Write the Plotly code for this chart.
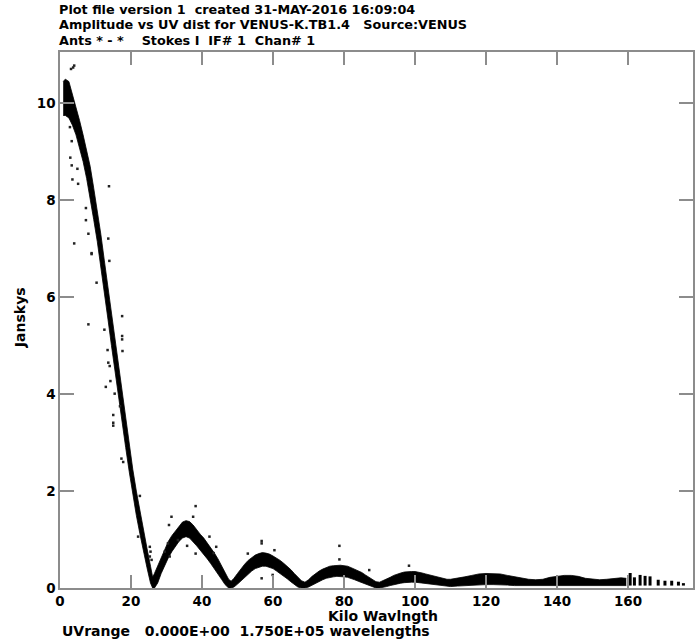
import plotly.graph_objects as go

# Amplitude vs UV distance, VENUS-K.TB1.4 (Stokes I, IF 1, channel 1)
# Dense visibility band: lower / upper amplitude envelope (Jy) vs UV distance (kilo-wavelengths)
uv_band = [0.9, 1.5, 2.5, 3.5, 4.5, 5.5, 6.5, 7.5, 8.5, 9.5, 10.5, 11.5, 12.5, 13.5, 14.5,
           15.5, 16.5, 17.5, 18.5, 19.5, 20.5, 21.5, 22.5, 23.5, 24.5, 25.5, 26.1, 26.6,
           27.5, 28.5, 29.5, 30.5, 31.5, 32.5, 33.5, 34.5, 35.5, 36.5, 37.5, 38.5, 39.5,
           40.5, 41.5, 42.5, 43.5, 44.5, 45.5, 46.5, 47.5, 48.2,
           49, 50, 51, 52, 53, 54, 55, 56, 57, 58, 59, 60, 61, 62, 63, 64, 65, 66, 67, 68, 69,
           70, 71, 72, 73, 74, 75, 76, 77, 78, 79, 80, 81, 82, 83, 84, 85, 86, 87, 88, 89, 90,
           91, 92, 93, 94, 95, 96, 97, 98, 99, 100, 101, 102, 103, 104, 105, 106, 107, 108, 109, 110,
           112, 114, 116, 118, 120, 122, 124, 126, 128, 130, 132, 134, 136, 138, 140, 142, 144,
           146, 148, 150, 152, 154, 156, 158, 159.5]
amp_low = [9.75, 9.75, 9.7, 9.55, 9.35, 9.1, 8.8, 8.45, 8.05, 7.6, 7.15, 6.65, 6.1, 5.55, 5.0,
           4.45, 3.9, 3.4, 2.9, 2.4, 1.9, 1.5, 1.12, 0.75, 0.42, 0.1, 0.0, 0.0,
           0.1, 0.3, 0.47, 0.62, 0.75, 0.86, 0.96, 1.03, 1.06, 1.03, 0.96, 0.87, 0.78,
           0.7, 0.6, 0.5, 0.4, 0.29, 0.18, 0.07, 0.0, 0.0,
           0.02, 0.08, 0.15, 0.22, 0.29, 0.35, 0.4, 0.43, 0.45, 0.45, 0.43, 0.4, 0.35, 0.3, 0.25,
           0.19, 0.13, 0.07, 0.02, 0.0, 0.0,
           0.02, 0.06, 0.1, 0.14, 0.17, 0.2, 0.22, 0.23, 0.24, 0.24, 0.23, 0.22, 0.2, 0.17, 0.14,
           0.11, 0.08, 0.05, 0.02, 0.0, 0.0,
           0.01, 0.03, 0.05, 0.07, 0.09, 0.1, 0.11, 0.12, 0.12, 0.12, 0.11, 0.1, 0.09, 0.08, 0.07,
           0.06, 0.05, 0.04, 0.03, 0.03,
           0.04, 0.05, 0.06, 0.07, 0.07, 0.07, 0.07, 0.06, 0.05, 0.05, 0.05, 0.05, 0.05, 0.05, 0.05,
           0.05, 0.05, 0.05, 0.05, 0.05, 0.05, 0.05, 0.05, 0.05, 0.05]
amp_high = [10.45, 10.5, 10.45, 10.2, 9.95, 9.65, 9.35, 9.05, 8.7, 8.25, 7.8, 7.3, 6.75, 6.2, 5.65,
            5.1, 4.55, 4.0, 3.5, 2.95, 2.45, 2.0, 1.58, 1.18, 0.82, 0.45, 0.22, 0.3,
            0.45, 0.65, 0.82, 0.96, 1.08, 1.18, 1.28, 1.36, 1.39, 1.37, 1.3, 1.2, 1.11,
            1.03, 0.93, 0.83, 0.72, 0.6, 0.46, 0.32, 0.18, 0.14,
            0.2, 0.3, 0.4, 0.49, 0.57, 0.63, 0.68, 0.71, 0.73, 0.72, 0.7, 0.66, 0.62, 0.57, 0.51,
            0.45, 0.38, 0.3, 0.22, 0.15, 0.12,
            0.17, 0.24, 0.3, 0.35, 0.39, 0.42, 0.45, 0.46, 0.47, 0.47, 0.46, 0.45, 0.42, 0.39, 0.35,
            0.32, 0.27, 0.22, 0.17, 0.13, 0.12,
            0.15, 0.19, 0.22, 0.26, 0.29, 0.31, 0.33, 0.34, 0.34, 0.34, 0.33, 0.31, 0.29, 0.27, 0.25,
            0.23, 0.21, 0.19, 0.18, 0.18,
            0.2, 0.23, 0.26, 0.29, 0.3, 0.3, 0.29, 0.26, 0.23, 0.2, 0.18, 0.17, 0.18, 0.22, 0.24,
            0.26, 0.26, 0.24, 0.2, 0.18, 0.17, 0.18, 0.2, 0.21, 0.2]

# Sparse long-baseline clumps: UV distance, lowest and highest amplitude
uv_clump = [160.6, 161.8, 163.4, 164.8, 166.2, 168.5, 170.4, 172.3, 174.2, 175.6]
amp_clump_low = [0.05, 0.05, 0.05, 0.05, 0.05, 0.05, 0.05, 0.05, 0.05, 0.05]
amp_clump_high = [0.31, 0.22, 0.27, 0.25, 0.24, 0.17, 0.15, 0.15, 0.13, 0.1]

# Isolated visibilities lying off the main band
uv_scatter = [4.0, 3.7, 3.1, 2.8, 3.3, 2.9, 3.3, 4.9, 3.5, 5.1, 13.8, 7.3, 7.3, 8.0, 13.6, 4.0,
              8.9, 8.9, 10.3, 13.9, 8.0, 17.5, 12.5, 17.5, 17.5, 17.6, 13.4, 13.6, 14.0, 14.2,
              12.9, 15.4, 15.0, 15.0, 15.0, 16.9, 17.3, 17.8, 22.5, 22.0, 25.3, 25.5, 25.3,
              25.8, 38.2, 31.4, 37.5, 30.7, 35.8, 38.2, 42.1, 44.0, 43.3, 29.5, 30.4, 33.2,
              30.9, 56.8, 56.8, 56.8, 60.4, 59.9, 78.7, 78.7, 87.1, 98.3, 52.9]
amp_scatter = [10.78, 10.74, 10.71, 9.51, 9.22, 8.88, 8.72, 8.65, 8.43, 8.34, 8.29, 7.84, 7.59,
               7.31, 7.21, 7.11, 6.91, 6.89, 6.3, 6.75, 5.44, 5.61, 5.33, 5.2, 5.13, 4.89, 4.91,
               4.65, 4.58, 4.27, 4.15, 4.01, 3.57, 3.41, 3.35, 3.75, 2.67, 2.6, 1.9, 1.06, 0.85,
               0.75, 0.65, 0.58, 1.69, 1.47, 1.47, 1.3, 0.87, 0.71, 1.06, 0.85, 0.72, 0.75, 0.92,
               0.99, 0.65, 0.97, 0.92, 0.2, 0.78, 0.27, 0.87, 0.59, 0.37, 0.46, 0.71]

x_ticks = [0, 20, 40, 60, 80, 100, 120, 140, 160]
y_ticks = [0, 2, 4, 6, 8, 10]

NB = "\u00a0"  # keeps runs of spaces in SVG text
title_lines = [
    f"Plot file version 1{NB}{NB}created 31-MAY-2016 16:09:04",
    f"Amplitude vs UV dist for VENUS-K.TB1.4{NB}{NB}{NB}Source:VENUS",
    f"Ants * - *{NB}{NB}{NB}{NB}Stokes I{NB}{NB}IF# 1{NB}{NB}Chan# 1",
]
x_title = "Kilo Wavlngth"
y_title = "Janskys"
footer = f"UVrange{NB}{NB}{NB}0.000E+00{NB}{NB}1.750E+05 wavelengths"

FONT = "DejaVu Sans, Verdana, sans-serif"
INK = "#000000"
FRAME = "#8c8c8c"

fig = go.Figure()

fig.add_trace(go.Scatter(x=uv_band, y=amp_low, mode="lines",
                         line=dict(color=INK, width=0.8), hoverinfo="skip"))
fig.add_trace(go.Scatter(x=uv_band, y=amp_high, mode="lines", fill="tonexty",
                         fillcolor=INK, line=dict(color=INK, width=0.8), hoverinfo="skip"))

clump_x, clump_y = [], []
for u, lo, hi in zip(uv_clump, amp_clump_low, amp_clump_high):
    clump_x += [u, u, None]
    clump_y += [lo, hi, None]
fig.add_trace(go.Scatter(x=clump_x, y=clump_y, mode="lines",
                         line=dict(color=INK, width=3), hoverinfo="skip"))

fig.add_trace(go.Scatter(x=uv_scatter, y=amp_scatter, mode="markers",
                         marker=dict(symbol="square", size=2.5, color="#222222"),
                         hoverinfo="skip"))

axis_common = dict(
    showline=True, linecolor=FRAME, linewidth=1.5, mirror="ticks",
    ticks="inside", tickcolor=FRAME, tickwidth=1.5,
    showgrid=False, zeroline=False,
    tickfont=dict(family=FONT, size=13.5, color=INK, weight="bold"),
)

fig.update_xaxes(range=[0, 178.3], tickvals=x_ticks, ticklen=13, **axis_common)
fig.update_yaxes(range=[0, 11.06], tickvals=y_ticks, ticklen=14, **axis_common)

H_PLOT = 536.0
def ypaper(ypx):
    return (588.0 - ypx) / H_PLOT

def xpaper(xpx):
    return (xpx - 60.0) / 635.0

annots = []
for i, line in enumerate(title_lines):
    annots.append(dict(text=line, x=xpaper(57), y=ypaper(10 + 15 * i),
                       xanchor="left", yanchor="middle", size=12.8))
annots.append(dict(text=x_title, x=xpaper(384), y=ypaper(616), xanchor="center",
                   yanchor="middle", size=14))
annots.append(dict(text=footer, x=xpaper(60), y=ypaper(630.5), xanchor="left",
                   yanchor="middle", size=14))
annots.append(dict(text=y_title, x=xpaper(20), y=ypaper(318), xanchor="center",
                   yanchor="middle", textangle=-90, size=14))
for a in annots:
    size = a.pop("size")
    a.update(xref="paper", yref="paper", showarrow=False,
             font=dict(family=FONT, size=size, color=INK, weight="bold"))

fig.update_layout(
    width=695, height=642,
    margin=dict(l=60, r=0, t=52, b=54),
    paper_bgcolor="white", plot_bgcolor="white",
    showlegend=False,
    annotations=annots,
)

fig.write_html("out.html")
